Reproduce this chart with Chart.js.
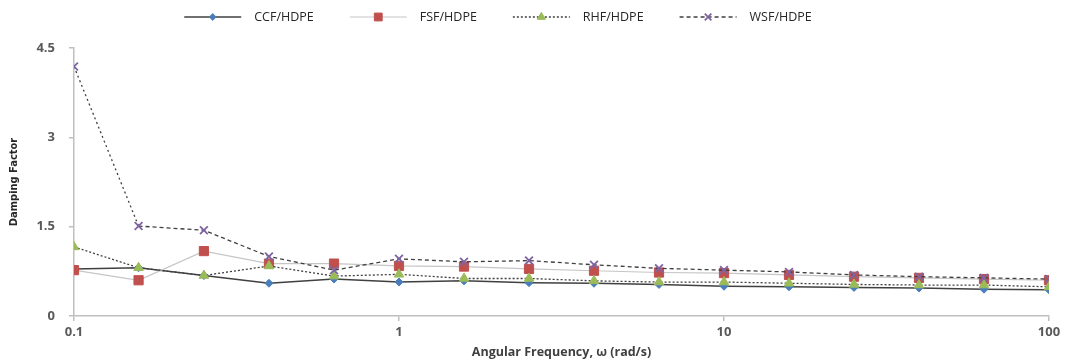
<!DOCTYPE html>
<html lang="en">
<head>
<meta charset="UTF-8">
<title>Damping Factor</title>
<script src="https://cdn.jsdelivr.net/npm/chart.js"></script>
<style>
  html, body { margin: 0; padding: 0; background: #fff; }
  #wrap { width: 1070px; height: 362px; }
</style>
</head>
<body>
<div id="wrap"><canvas id="dampChart"></canvas></div>
<script>
// angular frequency, rad/s (5 points per decade)
const frequencies = [0.1, 0.158, 0.251, 0.398, 0.631, 1, 1.585, 2.512, 3.981, 6.31, 10, 15.85, 25.12, 39.81, 63.1, 100];
const ccfHdpe = [0.79, 0.81, 0.68, 0.55, 0.62, 0.57, 0.59, 0.56, 0.55, 0.53, 0.50, 0.49, 0.48, 0.47, 0.45, 0.44];
const fsfHdpe = [0.77, 0.60, 1.09, 0.88, 0.88, 0.84, 0.83, 0.79, 0.76, 0.73, 0.72, 0.69, 0.66, 0.64, 0.62, 0.60];
const rhfHdpe = [1.16, 0.81, 0.68, 0.84, 0.67, 0.70, 0.63, 0.63, 0.59, 0.57, 0.57, 0.55, 0.53, 0.52, 0.52, 0.49];
const wsfHdpe = [4.19, 1.51, 1.44, 1.00, 0.77, 0.96, 0.91, 0.93, 0.86, 0.80, 0.77, 0.74, 0.69, 0.66, 0.64, 0.62];
const xTicks = [0.1, 1, 10, 100];
const yTicks = [0, 1.5, 3, 4.5];

const toPoints = arr => arr.map((v, i) => ({ x: frequencies[i], y: v }));

const axisGray = '#bfbfbf';
const labelGray = '#595959';

// legend drawn as line + marker like the spreadsheet one
const lineLegend = {
    id: 'lineLegend',
    afterDraw(chart, args, opts) {
        const ctx = chart.ctx;
        ctx.save();
        ctx.font = opts.font;
        ctx.textBaseline = 'middle';
        const items = chart.data.datasets.map(ds => ({
            ds: ds,
            w: opts.lineLength + opts.textGap + ctx.measureText(ds.label).width
        }));
        const total = items.reduce((a, it) => a + it.w, 0) + opts.itemGap * (items.length - 1);
        let x = opts.centerX - total / 2;
        const y = opts.y;
        items.forEach(it => {
            const ds = it.ds;
            ctx.strokeStyle = ds.borderColor;
            ctx.lineWidth = ds.borderWidth;
            ctx.setLineDash(ds.borderDash || []);
            ctx.beginPath();
            ctx.moveTo(x, y);
            ctx.lineTo(x + opts.lineLength, y);
            ctx.stroke();
            ctx.setLineDash([]);
            ctx.fillStyle = ds.pointBackgroundColor;
            ctx.strokeStyle = ds.pointBorderColor;
            ctx.lineWidth = ds.pointBorderWidth;
            Chart.helpers.drawPoint(ctx, {
                pointStyle: ds.pointStyle,
                radius: ds.pointRadius * 0.85,
                rotation: 0,
                borderWidth: ds.pointBorderWidth
            }, x + opts.lineLength / 2, y);
            ctx.fillStyle = opts.color;
            ctx.fillText(ds.label, x + opts.lineLength + opts.textGap, y);
            x += it.w + opts.itemGap;
        });
        ctx.restore();
    }
};

const ctx = document.getElementById('dampChart').getContext('2d');
const dampChart = new Chart(ctx, {
    type: 'line',
    data: {
        datasets: [{
            label: 'CCF/HDPE',
            data: toPoints(ccfHdpe),
            borderColor: '#404040',
            borderWidth: 1.5,
            pointStyle: 'rectRot',
            pointRadius: 4,
            pointBackgroundColor: '#4a7ebb',
            pointBorderColor: '#4a7ebb',
            pointBorderWidth: 1,
            order: 3
        }, {
            label: 'FSF/HDPE',
            data: toPoints(fsfHdpe),
            borderColor: '#c6c6c6',
            borderWidth: 1.2,
            pointStyle: 'rect',
            pointRadius: 6.5,
            pointBackgroundColor: '#c0504d',
            pointBorderColor: '#c0504d',
            pointBorderWidth: 1,
            order: 2
        }, {
            label: 'RHF/HDPE',
            data: toPoints(rhfHdpe),
            borderColor: '#404040',
            borderWidth: 1.3,
            borderDash: [2, 2],
            pointStyle: 'triangle',
            pointRadius: 5.5,
            pointBackgroundColor: '#9bbb59',
            pointBorderColor: '#9bbb59',
            pointBorderWidth: 1,
            order: 1
        }, {
            label: 'WSF/HDPE',
            data: toPoints(wsfHdpe),
            borderColor: '#404040',
            borderWidth: 1.3,
            borderDash: [4, 3],
            segment: {
                borderDash: c => c.p0DataIndex === 0 ? [2, 3] : undefined
            },
            pointStyle: 'crossRot',
            pointRadius: 5.5,
            pointBackgroundColor: '#8064a2',
            pointBorderColor: '#8064a2',
            pointBorderWidth: 1.8,
            order: 0
        }]
    },
    options: {
        responsive: true,
        maintainAspectRatio: false,
        animation: false,
        layout: { padding: { left: 0, right: 21, top: 48, bottom: 0 } },
        plugins: {
            legend: { display: false },
            tooltip: { enabled: false },
            lineLegend: {
                font: '12.5px "Open Sans", sans-serif',
                color: '#262626',
                lineLength: 57,
                textGap: 13,
                itemGap: 36,
                centerX: 498,
                y: 17
            }
        },
        scales: {
            x: {
                type: 'logarithmic',
                min: 0.1,
                max: 100,
                afterBuildTicks: s => { s.ticks = xTicks.map(v => ({ value: v })); },
                afterFit: s => { s.height = 46; },
                ticks: {
                    autoSkip: false,
                    maxRotation: 0,
                    padding: 3,
                    color: labelGray,
                    font: { family: 'Open Sans', size: 13, weight: 'bold' },
                    callback: v => String(v)
                },
                grid: { drawOnChartArea: false, drawTicks: true, tickLength: 5, color: axisGray, lineWidth: 1.5 },
                border: { color: axisGray, width: 1.5 },
                title: {
                    display: true,
                    text: 'Angular Frequency, ω (rad/s)',
                    color: '#404040',
                    font: { family: 'Open Sans', size: 12.5, weight: 'bold' },
                    padding: { top: 0, bottom: 2 }
                }
            },
            y: {
                type: 'linear',
                min: 0,
                max: 4.5,
                afterBuildTicks: s => { s.ticks = yTicks.map(v => ({ value: v })); },
                afterFit: s => { s.width = 74; },
                ticks: {
                    padding: 14,
                    color: labelGray,
                    font: { family: 'Open Sans', size: 13, weight: 'bold' },
                    callback: v => String(v)
                },
                grid: { drawOnChartArea: false, drawTicks: true, tickLength: 5, color: axisGray, lineWidth: 1.5 },
                border: { color: axisGray, width: 1.5 },
                title: {
                    display: true,
                    text: 'Damping Factor',
                    color: '#262626',
                    font: { family: '"DejaVu Sans Condensed", Roboto, sans-serif', size: 11, weight: 'bold' },
                    padding: { top: 8, bottom: 0 }
                }
            }
        }
    },
    plugins: [lineLegend]
});
</script>
</body>
</html>
